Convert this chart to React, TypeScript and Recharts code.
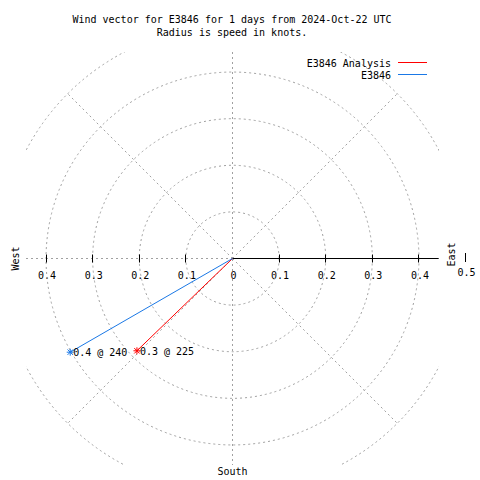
import * as Recharts from 'recharts';
import { ScatterChart, Scatter, XAxis, YAxis, Customized } from 'recharts';

// series (vectors drawn from the origin)
const seriesNames = ['E3846 Analysis', 'E3846'];
const seriesColors = ['#ff0000', '#1a78e6'];
const speeds = [0.285, 0.402]; // knots
const directions = [226, 240]; // degrees, compass
const tipLabels = ['0.3 @ 225', '0.4 @ 240'];

// polar grid
const rings = [0.1, 0.2, 0.3, 0.4, 0.5];
const spokeAngles = [0, 45, 90, 135, 180, 225, 270, 315];

// horizontal axis ticks
const axisTicks = [-0.4, -0.3, -0.2, -0.1, 0, 0.1, 0.2, 0.3, 0.4];
const axisTickLabels = ['0.4', '0.3', '0.2', '0.1', '0', '0.1', '0.2', '0.3', '0.4'];
const outerTick = 0.5;
const outerTickLabel = '0.5';

const titleLines = ['Wind vector for E3846 for 1 days from 2024-Oct-22 UTC', 'Radius is speed in knots.'];
const compass = { west: 'West', east: 'East', south: 'South' };

const DOMAIN: [number, number] = [-0.443, 0.443];
const MARGIN = { top: 52, right: 41, bottom: 15, left: 26 };
const W = 480;
const H = 480;
const FONT = '"DejaVu Sans Mono", monospace';
const GRID = '#a0a0a0';

const seriesData = speeds.map((s, i) => {
  const rad = (directions[i] * Math.PI) / 180;
  return [
    { x: 0, y: 0 },
    { x: s * Math.sin(rad), y: s * Math.cos(rad), label: tipLabels[i], tip: true },
  ];
});

function usePlot() {
  const hook = (Recharts as any).usePlotArea;
  const p = hook ? hook() : null;
  return p ?? { x: MARGIN.left, y: MARGIN.top, width: W - MARGIN.left - MARGIN.right, height: H - MARGIN.top - MARGIN.bottom };
}

const px = (v: number) => Math.floor(v) + 0.5;

function PolarFrame() {
  const plot = usePlot();
  const span = DOMAIN[1] - DOMAIN[0];
  const k = plot.width / span;
  const sx = (v: number) => plot.x + (v - DOMAIN[0]) * k;
  const sy = (v: number) => plot.y + (DOMAIN[1] - v) * (plot.height / span);
  const cx = sx(0);
  const cy = sy(0);
  const rMax = rings[rings.length - 1] * k;
  const txt = { fontFamily: FONT, fontSize: 10, fill: '#000' };

  return (
    <g>
      <clipPath id="plotClip">
        <rect x={plot.x} y={plot.y} width={plot.width} height={plot.height} />
      </clipPath>
      {/* tick labels under the grid */}
      {axisTicks.map((t, i) => (
        <text key={'tl' + i} x={sx(t) + 1} y={cy + 20.5} textAnchor="middle" {...txt}>
          {axisTickLabels[i]}
        </text>
      ))}
      <text x={sx(outerTick) + 1} y={cy + 17.5} textAnchor="middle" {...txt}>
        {outerTickLabel}
      </text>
      <g clipPath="url(#plotClip)" stroke={GRID} strokeWidth={1} strokeDasharray="2 3" fill="none">
        {rings.map((r) => (
          <circle key={'r' + r} cx={px(cx)} cy={px(cy)} r={r * k} />
        ))}
        {spokeAngles.map((a) => {
          const rad = (a * Math.PI) / 180;
          return (
            <line
              key={'s' + a}
              x1={px(cx)}
              y1={px(cy)}
              x2={px(cx) + rMax * Math.cos(rad)}
              y2={px(cy) - rMax * Math.sin(rad)}
              shapeRendering={a % 90 === 0 ? 'crispEdges' : 'auto'}
            />
          );
        })}
      </g>
      <line x1={px(cx)} y1={px(cy)} x2={px(plot.x + plot.width - 1)} y2={px(cy)} stroke="#000" strokeWidth={1} />
      {axisTicks.filter((t) => t !== 0).map((t) => (
        <line key={'tk' + t} x1={px(sx(t))} y1={px(cy) - 4} x2={px(sx(t))} y2={px(cy) + 4} stroke="#000" strokeWidth={1} />
      ))}
      <rect x={Math.floor(sx(outerTick))} y={Math.floor(cy) - 5} width={1} height={9} fill="#000" />
      <text transform={`translate(15, ${cy}) rotate(-90)`} textAnchor="middle" dominantBaseline="central" {...txt}>
        {compass.west}
      </text>
      <text transform={`translate(451, ${cy - 4}) rotate(-90)`} textAnchor="middle" dominantBaseline="central" {...txt}>
        {compass.east}
      </text>
      <text x={cx} y={475} textAnchor="middle" {...txt}>
        {compass.south}
      </text>
      {titleLines.map((l, i) => (
        <text key={'t' + i} x={232} y={22.5 + i * 13} textAnchor="middle" {...txt}>
          {l}
        </text>
      ))}
      {seriesNames.map((n, i) => (
        <g key={'lg' + i}>
          <text x={391} y={66.5 + i * 12.5} textAnchor="end" {...txt}>
            {n}
          </text>
          <line x1={398} y1={62.5 + i * 12} x2={427} y2={62.5 + i * 12} stroke={seriesColors[i]} strokeWidth={1} />
        </g>
      ))}
    </g>
  );
}

function makeTip(color: string) {
  return (props: any) => {
    const { cx, cy, payload } = props;
    if (!payload || !payload.tip) return <g />;
    const s = 3.5;
    return (
      <g>
        <g stroke={color} strokeWidth={1}>
          <line x1={cx - s} y1={cy} x2={cx + s} y2={cy} />
          <line x1={cx} y1={cy - s} x2={cx} y2={cy + s} />
          <line x1={cx - s + 0.8} y1={cy - s + 0.8} x2={cx + s - 0.8} y2={cy + s - 0.8} />
          <line x1={cx - s + 0.8} y1={cy + s - 0.8} x2={cx + s - 0.8} y2={cy - s + 0.8} />
        </g>
        <text x={cx + 3} y={cy + 4} fontFamily={FONT} fontSize={10} fill="#000">
          {payload.label}
        </text>
      </g>
    );
  };
}

export default function App() {
  return (
    <div style={{ position: 'absolute', left: 0, top: 0, width: W, height: H, background: '#fff' }}>
      <ScatterChart width={W} height={H} margin={MARGIN}>
        <XAxis type="number" dataKey="x" domain={DOMAIN} allowDataOverflow hide />
        <YAxis type="number" dataKey="y" domain={DOMAIN} allowDataOverflow hide />
        <Customized component={<PolarFrame />} />
        {seriesData.map((d, i) => (
          <Scatter
            key={seriesNames[i]}
            name={seriesNames[i]}
            data={d}
            line={{ stroke: seriesColors[i], strokeWidth: 1 }}
            lineType="joint"
            shape={makeTip(seriesColors[i])}
            isAnimationActive={false}
          />
        ))}
      </ScatterChart>
    </div>
  );
}
